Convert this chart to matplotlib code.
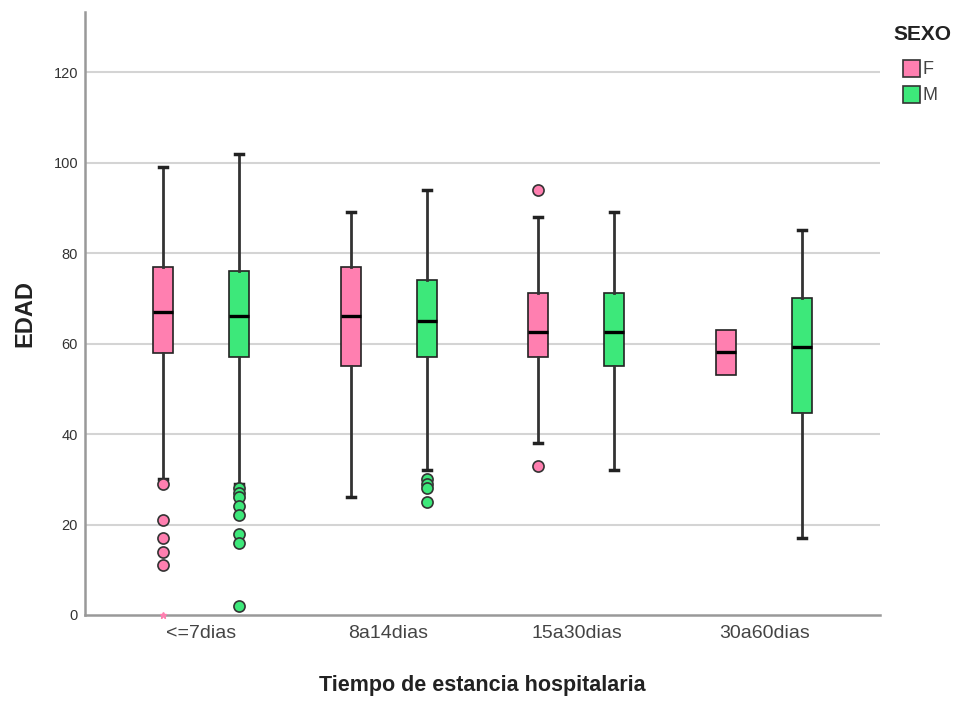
import matplotlib
matplotlib.use('Agg')
import matplotlib.pyplot as plt
from matplotlib.patches import Rectangle

plt.rcParams['font.family'] = ['Liberation Sans', 'DejaVu Sans']

grupos = ['<=7dias', '8a14dias', '15a30dias', '30a60dias']
sexos = ['F', 'M']
colores = {'F': '#ff7fb0', 'M': '#3de87a'}

# cuartiles y bigotes
bigote_inf = {'F': [30, 26, 38, 53], 'M': [29, 32, 32, 17]}
q1 = {'F': [58, 55, 57, 53], 'M': [57, 57, 55, 44.6]}
mediana = {'F': [67, 66, 62.6, 58.2], 'M': [66, 65, 62.6, 59.2]}
q3 = {'F': [77, 77, 71.2, 63.1], 'M': [76, 74, 71.2, 70.1]}
bigote_sup = {'F': [99, 89, 88, 63.1], 'M': [102, 94, 89, 85]}
atipicos = {'F': [[29, 21, 17, 14, 11], [], [94, 33], []],
            'M': [[28, 27, 26, 24, 22, 18, 16, 2], [30, 29, 28, 25], [], []]}
extremos_F = [0]

fig = plt.figure(figsize=(9.6, 7.04), dpi=100)
ax = fig.add_axes([85/960, 89/704, 795/960, 603/704])

desp = 38/188
for s, signo in zip(sexos, [-1, 1]):
    stats = []
    for i in range(len(grupos)):
        stats.append({'whislo': bigote_inf[s][i], 'q1': q1[s][i], 'med': mediana[s][i],
                      'q3': q3[s][i], 'whishi': bigote_sup[s][i], 'fliers': atipicos[s][i]})
    pos = [i + signo*desp for i in range(len(grupos))]
    bp = ax.bxp(stats, positions=pos, widths=20/188, capwidths=8/188, patch_artist=True,
                manage_ticks=False,
                boxprops=dict(facecolor=colores[s], edgecolor='#222222', linewidth=1.2),
                medianprops=dict(color='black', linewidth=2.4),
                whiskerprops=dict(color='#333333', linewidth=2),
                capprops=dict(color='#222222', linewidth=2.5),
                flierprops=dict(marker='o', markerfacecolor=colores[s], markeredgecolor='#333333',
                                markersize=8, markeredgewidth=1.2))
    if s == 'F':
        # grupo 30a60dias sin bigotes
        for c in bp['caps'][6:8]:
            c.set_visible(False)
        for w in bp['whiskers'][6:8]:
            w.set_visible(False)

ax.plot([0 - desp]*len(extremos_F), extremos_F, marker='*', color=colores['F'],
        markersize=5, linestyle='none', clip_on=False, zorder=3)

ax.set_xlim(-0.617, 3.617)
ax.set_ylim(0, 133.3)
ax.set_yticks([0, 20, 40, 60, 80, 100, 120])
ax.set_xticks(range(len(grupos)))
ax.set_xticklabels(grupos, fontsize=14, color='#444444')
ax.tick_params(axis='y', labelsize=10.5, colors='#333333', length=0, pad=5)
ax.tick_params(axis='x', length=0, pad=7)
for y in [20, 40, 60, 80, 100, 120]:
    ax.axhline(y, color='#d4d4d4', linewidth=1.5, zorder=0)

for sp in ['top', 'right']:
    ax.spines[sp].set_visible(False)
for sp in ['left', 'bottom']:
    ax.spines[sp].set_color('#999999')
    ax.spines[sp].set_linewidth(1.8)

ax.set_ylabel('EDAD', fontsize=17, fontweight='bold', color='#222222', labelpad=12)
ax.set_xlabel('Tiempo de estancia hospitalaria', fontsize=15.5, fontweight='bold',
              color='#222222', labelpad=24)

# leyenda
fig.text(893/960, 1 - 34/704, 'SEXO', fontsize=15, fontweight='bold', color='#222222',
         va='center', ha='left')
for k, s in enumerate(sexos):
    y0 = 1 - (77 + 26*k)/704
    fig.patches.append(Rectangle((903/960, y0), 17/960, 17/704, transform=fig.transFigure,
                                 facecolor=colores[s], edgecolor='#333333', linewidth=1.2))
    fig.text(923/960, y0 + 7/704, s, fontsize=13, color='#444444', va='center', ha='left')

fig.savefig('out.png', dpi=100, facecolor='white')
